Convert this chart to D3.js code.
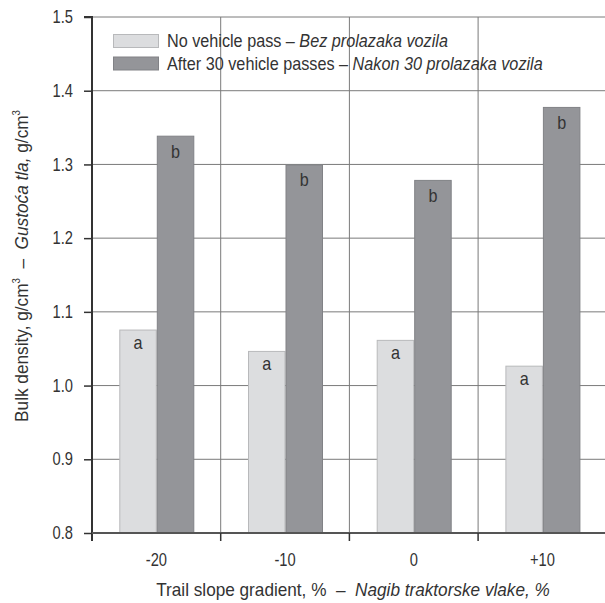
<!DOCTYPE html>
<html>
<head>
<meta charset="utf-8">
<script src="https://cdn.jsdelivr.net/npm/d3@7"></script>
<style>
  html, body { margin: 0; padding: 0; background: #fff; }
  svg { display: block; }
  text { font-family: "Liberation Sans", Arial, sans-serif; fill: #333; }
</style>
</head>
<body>
<svg id="chart" width="605" height="603"></svg>
<script>
const categories = ["-20", "-10", "0", "+10"];
const seriesNames = ["No vehicle pass", "After 30 vehicle passes"];
const seriesNamesHr = ["Bez prolazaka vozila", "Nakon 30 prolazaka vozila"];
const noPass = [1.076, 1.047, 1.062, 1.027];
const after30 = [1.339, 1.300, 1.279, 1.378];
const letters0 = ["a", "a", "a", "a"];
const letters1 = ["b", "b", "b", "b"];
const yTicks = [0.8, 0.9, 1.0, 1.1, 1.2, 1.3, 1.4, 1.5];

(function () {
const svg = d3.select("#chart");
const mLeft = 92, mTop = 17, mBottom = 533, catW = 128.7;
const SX = 0.84; // narrow font emulation for numbers/letters
const x = d3.scaleBand().domain(categories).range([mLeft, mLeft + catW * categories.length]).padding(0);
const xs = d3.scaleBand().domain([0, 1]).range([27.3, 102.3]).padding(0);
const y = d3.scaleLinear().domain([0.8, 1.5]).range([mBottom, mTop]);

const colors = ["#dcdddf", "#949599"];
const strokes = ["#b8b9bb", "#818286"];

// text placed at (px,py), horizontally squeezed so it spans targetW pixels
function fitText(parent, px, py, size, anchor, rot, targetW, build) {
  const t = parent.append("text").attr("font-size", size).attr("text-anchor", anchor || "start");
  build(t);
  const w = t.node().getComputedTextLength();
  const s = targetW ? targetW / w : SX;
  const r = rot ? ` rotate(${rot})` : "";
  t.attr("transform", `translate(${px},${py})${r} scale(${s},1)`);
  return t;
}

// horizontal grid
svg.append("g").selectAll("line").data(yTicks.slice(1)).join("line")
  .attr("x1", mLeft).attr("x2", 605)
  .attr("y1", d => y(d)).attr("y2", d => y(d))
  .attr("stroke", "#7a7a7a").attr("stroke-width", 1);

// vertical dividers
svg.append("g").selectAll("line").data(categories.slice(1)).join("line")
  .attr("x1", d => x(d)).attr("x2", d => x(d))
  .attr("y1", mTop).attr("y2", mBottom)
  .attr("stroke", "#7a7a7a").attr("stroke-width", 1);

const data = categories.map((c, i) => ({ c, vals: [noPass[i], after30[i]], letters: [letters0[i], letters1[i]] }));

const groups = svg.append("g").selectAll("g").data(data).join("g")
  .attr("transform", d => `translate(${x(d.c)},0)`);

groups.selectAll("rect").data(d => d.vals.map((v, k) => ({ v, k }))).join("rect")
  .attr("x", d => xs(d.k) + 0.5)
  .attr("width", xs.bandwidth() - 1)
  .attr("y", d => y(d.v) + 0.5)
  .attr("height", d => mBottom - y(d.v) - 0.5)
  .attr("fill", d => colors[d.k])
  .attr("stroke", d => strokes[d.k]).attr("stroke-width", 1);

groups.selectAll("text.lbl").data(d => d.vals.map((v, k) => ({ v, k, t: d.letters[k] }))).join("text")
  .attr("class", "lbl")
  .attr("transform", d => `translate(${xs(d.k) + xs.bandwidth() / 2},${y(d.v) + (d.k === 0 ? 19 : 22)}) scale(0.9,1)`)
  .attr("text-anchor", "middle")
  .attr("font-size", 18)
  .text(d => d.t);

// y axis
const yAxis = d3.axisLeft(y).tickValues(yTicks).tickFormat(d3.format(".1f")).tickSize(8).tickPadding(10);
const ya = svg.append("g").attr("transform", `translate(${mLeft},0)`).call(yAxis);
ya.select(".domain").attr("stroke", "#333").attr("stroke-width", 2).attr("d", `M-8,${mTop}H0V${mBottom + 8}`);
ya.selectAll(".tick line").attr("stroke", "#333").attr("stroke-width", 1.5);
ya.selectAll(".tick text").attr("font-size", 17.5).attr("fill", "#333")
  .attr("font-family", "\"Liberation Sans\", Arial, sans-serif")
  .attr("x", -19 / SX).attr("transform", `scale(${SX},1)`);

// x axis
const xAxis = d3.axisBottom(x).tickSize(0).tickPadding(21);
const xa = svg.append("g").attr("transform", `translate(0,${mBottom})`).call(xAxis);
xa.select(".domain").attr("stroke", "#555").attr("stroke-width", 2).attr("d", `M${mLeft},0H605`);
xa.selectAll(".tick text").attr("font-size", 17.5).attr("fill", "#333")
  .attr("font-family", "\"Liberation Sans\", Arial, sans-serif")
  .attr("transform", `scale(${SX},1)`);
// x tick marks at category boundaries
svg.append("g").selectAll("line").data(categories.slice(1)).join("line")
  .attr("x1", d => x(d)).attr("x2", d => x(d))
  .attr("y1", mBottom).attr("y2", mBottom + 8)
  .attr("stroke", "#333").attr("stroke-width", 1.5);

// x title
fitText(svg, 353, 596, 17.5, "middle", 0, 394, t => {
  t.append("tspan").text("Trail slope gradient, %\u00a0\u00a0\u2013\u00a0\u00a0");
  t.append("tspan").attr("font-style", "italic").text("Nagib traktorske vlake, %");
});

// y title
fitText(svg, 28, 266, 18, "middle", -90, 312, t => {
  t.append("tspan").text("Bulk density, g/cm");
  t.append("tspan").attr("font-size", 10).attr("dy", -8).text("3");
  t.append("tspan").attr("dy", 8).text("\u00a0\u00a0\u2013\u00a0\u00a0");
  t.append("tspan").attr("font-style", "italic").text("Gustoća tla,");
  t.append("tspan").text(" g/cm");
  t.append("tspan").attr("font-size", 10).attr("dy", -8).text("3");
});

// legend
const leg = svg.append("g");
const legW = [281, 376];
seriesNames.forEach((n, i) => {
  const yy = 34 + i * 22.5;
  leg.append("rect").attr("x", 113.5).attr("y", yy + 0.5).attr("width", 45).attr("height", 13)
    .attr("fill", colors[i]).attr("stroke", strokes[i]);
  fitText(leg, 167, yy + 13, 17.5, "start", 0, legW[i], t => {
    t.append("tspan").text(n + " \u2013 ");
    t.append("tspan").attr("font-style", "italic").text(seriesNamesHr[i]);
  });
});
})();
</script>
</body>
</html>
